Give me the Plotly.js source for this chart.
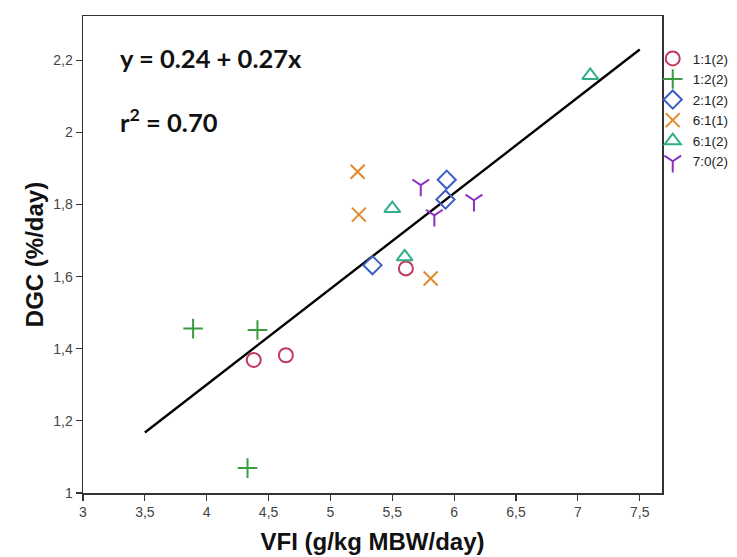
<!DOCTYPE html>
<html>
<head>
<meta charset="utf-8">
<script src="https://cdn.plot.ly/plotly-3.0.1.min.js"></script>
<style>html,body{margin:0;padding:0;background:#fff;}#chart{width:737px;height:557px;}</style>
</head>
<body>
<div id="chart"></div>
<script>
// Data
var seriesNames = ["1:1(2)", "1:2(2)", "2:1(2)", "6:1(1)", "6:1(2)", "7:0(2)"];
var x11 = [4.38, 4.64, 5.61];
var y11 = [1.369, 1.382, 1.623];
var x12 = [3.89, 4.41, 4.33];
var y12 = [1.456, 1.452, 1.069];
var x21 = [5.34, 5.93, 5.94];
var y21 = [1.632, 1.814, 1.869];
var x61a = [5.22, 5.23, 5.81];
var y61a = [1.891, 1.772, 1.595];
var x61b = [5.50, 5.60, 7.10];
var y61b = [1.789, 1.655, 2.158];
var x70 = [5.73, 5.84, 6.16];
var y70 = [1.854, 1.770, 1.812];
var fitX = [3.5, 7.5];
var fitY = [1.168, 2.230];
var eqText = "y = 0.24 + 0.27x";
var r2Text = "r<sup>2</sup> = 0.70";

var colors = ["#c23b5e", "#3a9b3f", "#3d5fc4", "#e08a2c", "#2fae8c", "#8b2fc2"];
var symbols = ["circle-open", "cross-thin-open", "diamond-open", "x-thin-open", "triangle-up-open", "y-down-open"];
var xs = [x11, x12, x21, x61a, x61b, x70];
var ys = [y11, y12, y21, y61a, y61b, y70];

var traces = [{
  x: fitX, y: fitY, mode: "lines", type: "scatter",
  line: {color: "#000", width: 2.4}, showlegend: false, hoverinfo: "skip"
}];
for (var i = 0; i < seriesNames.length; i++) {
  traces.push({
    x: xs[i], y: ys[i], type: "scatter", mode: "markers", name: seriesNames[i],
    marker: {symbol: symbols[i], size: 14, color: colors[i], line: {color: colors[i], width: 2}}
  });
}

var tickFont = {family: "Liberation Sans Narrow, Liberation Sans, Arial, sans-serif", size: 14, color: "#444"};
var titleFont = {family: "Liberation Sans Narrow, Liberation Sans, Arial, sans-serif", size: 24, color: "#111", weight: "bold"};

var layout = {
  width: 737, height: 557,
  margin: {l: 83, r: 75, t: 16, b: 64, autoexpand: false},
  paper_bgcolor: "#fff", plot_bgcolor: "#fff",
  separators: ", ",
  showlegend: true,
  legend: {x: 0.984, xanchor: "left", y: 0.943, yanchor: "top", itemwidth: 30,
    font: {family: "Liberation Sans, Arial, sans-serif", size: 13.5, color: "#222"},
    bgcolor: "rgba(0,0,0,0)", tracegroupgap: 0},
  xaxis: {
    range: [3, 7.68], dtick: 0.5, tick0: 3, showgrid: false, zeroline: false,
    showline: true, mirror: true, linecolor: "#333", linewidth: 1.5,
    ticks: "outside", ticklen: 6, tickcolor: "#333", tickwidth: 1.2,
    tickfont: tickFont,
    title: {text: "VFI (g/kg MBW/day)", font: titleFont, standoff: 14}
  },
  yaxis: {
    range: [1, 2.323], dtick: 0.2, tick0: 1, showgrid: false, zeroline: false,
    showline: true, mirror: true, linecolor: "#333", linewidth: 1.5,
    ticks: "outside", ticklen: 6, tickcolor: "#333", tickwidth: 1.2,
    tickfont: tickFont,
    title: {text: "DGC (%/day)", font: titleFont, standoff: 3}
  },
  annotations: [
    {xref: "paper", yref: "paper", x: 0.06, y: 0.911, xanchor: "left", yanchor: "middle",
     text: eqText, showarrow: false,
     font: {family: "Lato, Carlito, Open Sans, sans-serif", size: 25.5, color: "#111", weight: "bold"}},
    {xref: "paper", yref: "paper", x: 0.06, y: 0.783, xanchor: "left", yanchor: "middle",
     text: r2Text, showarrow: false,
     font: {family: "Lato, Carlito, Open Sans, sans-serif", size: 25.5, color: "#111", weight: "bold"}}
  ]
};

Plotly.newPlot("chart", traces, layout, {displayModeBar: false, staticPlot: true});
</script>
</body>
</html>
